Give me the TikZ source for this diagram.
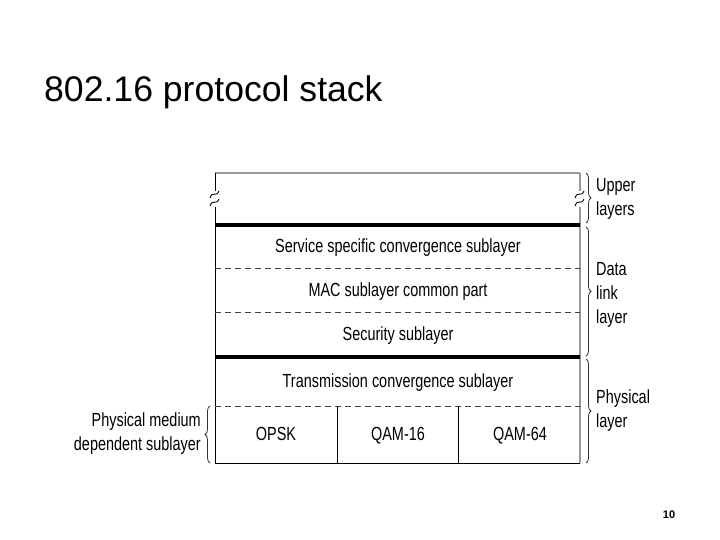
\documentclass[tikz,border=0pt]{standalone}
\usepackage{fontspec}
\setmainfont{Liberation Sans}
\newfontfamily\nar[FakeStretch=0.76]{Liberation Sans}
\usetikzlibrary{decorations.pathreplacing}
\begin{document}
\begin{tikzpicture}[x=1pt,y=-1pt,
  lbl/.style={font=\nar\fontsize{19}{24}\selectfont, inner sep=0pt},
  cell/.style={lbl, anchor=base},
  side/.style={lbl, align=left, anchor=west},
  thin/.style={line width=1pt, black},
  thick/.style={line width=4pt, black},
  dashln/.style={line width=0.9pt, black!75, dash pattern=on 6pt off 4pt},
  greyln/.style={line width=1.5pt, black!40},
  brc/.style={decorate, decoration={brace, amplitude=5pt}, line width=0.8pt, black!80},
  squig/.style={line width=0.9pt, black}]
\useasboundingbox[fill=white] (0,0) rectangle (720,540);
% title
\node[anchor=base west, inner sep=0pt, font=\fontsize{35.6}{40}\selectfont] (title) at (44,102) {802.16 protocol stack};
% frame
\draw[greyln] (215,173) -- (580,173);
\draw[greyln] (580,173) -- (580,463);
\draw[thin] (215,173) -- (215,463) -- (580,463);
\draw[thick] (215,225) -- (580,225);
\draw[dashln] (215,268) -- (580,268);
\draw[dashln] (215,312) -- (580,312);
\draw[thick] (215,357) -- (580,357);
\draw[dashln] (215,406) -- (580,406);
\draw[thin] (337,406) -- (337,463);
\draw[thin] (458,406) -- (458,463);
% break marks
\foreach \xx in {215,580}{
  \fill[white] (\xx-6,191) rectangle (\xx+6,207);
  \draw[squig] (\xx-5,198) .. controls (\xx-2,190) and (\xx+1,198) .. (\xx+4,191);
  \draw[squig] (\xx-5,206) .. controls (\xx-2,198) and (\xx+1,206) .. (\xx+4,199);
}
% layer texts
\node[cell] (sscs) at (398,252.5) {Service specific convergence sublayer};
\node[cell] (mac) at (398,296.5) {MAC sublayer common part};
\node[cell] (sec) at (398,340.5) {Security sublayer};
\node[cell] (tc) at (398,387.5) {Transmission convergence sublayer};
\node[cell] (qpsk) at (276,440.5) {OPSK};
\node[cell] (q16) at (398,440.5) {QAM-16};
\node[cell] (q64) at (520,440.5) {QAM-64};
% right braces
\coordinate (b1t) at (586,173); \coordinate (b1b) at (586,223);
\coordinate (b2t) at (586,227); \coordinate (b2b) at (586,356);
\coordinate (b3t) at (586,359); \coordinate (b3b) at (586,463);
\draw[brc] (b1t) -- (b1b);
\draw[brc] (b2t) -- (b2b);
\draw[brc] (b3t) -- (b3b);
\node[side] (upper) at (596,199) {Upper\\layers};
\node[side] (dll) at (596,295) {Data\\link\\layer};
\node[side] (phy) at (596,411) {Physical\\layer};
% left brace
\coordinate (lbt) at (210,406); \coordinate (lbb) at (210,463);
\draw[brc] (lbb) -- (lbt);
\node[lbl, align=right, anchor=east] (pmd) at (201,434) {Physical medium\\dependent sublayer};
% page number
\node[inner sep=0pt, font=\bfseries\fontsize{11}{12}\selectfont] (pg) at (669,515) {10};
\end{tikzpicture}
\end{document}
